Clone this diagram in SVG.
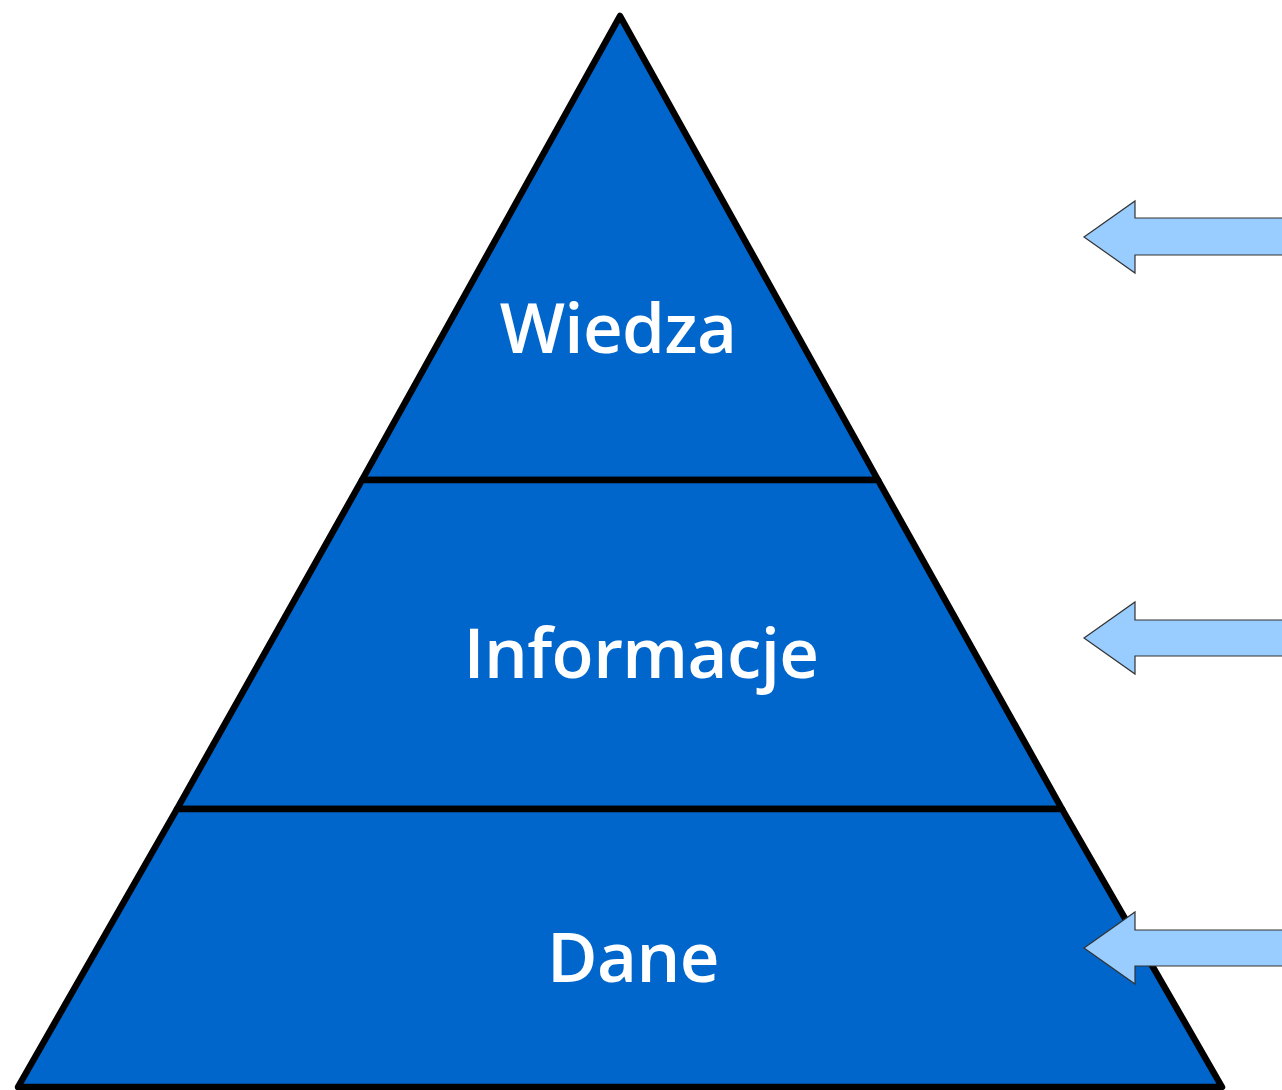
<svg xmlns="http://www.w3.org/2000/svg" width="1282" height="1090" viewBox="0 0 1282 1090">
  <style>
    .layer { fill: #0066cc; stroke: #000; stroke-width: 6.5; stroke-linejoin: round; }
    .label { fill: #fff; font-family: "Open Sans", "Noto Sans", sans-serif; font-weight: 600; font-size: 69px; letter-spacing: -0.6px; text-anchor: middle; }
    .arrow { fill: #99ccff; stroke: #333; stroke-width: 1.2; }
  </style>
  <rect width="1282" height="1090" fill="#fff"/>

  <!-- pyramid levels, top to bottom -->
  <g id="wiedza">
    <polygon class="layer" points="620,16 878,480 362,480"/>
    <text class="label" x="618" y="353">Wiedza</text>
  </g>
  <g id="informacje">
    <polygon class="layer" points="362,480 878,480 1062,809 177,809"/>
    <text class="label" x="641" y="678">Informacje</text>
  </g>
  <g id="dane">
    <polygon class="layer" points="177,809 1062,809 1222,1087 18,1087"/>
    <text class="label" x="633" y="982">Dane</text>
  </g>

  <!-- incoming arrows from the right -->
  <g id="connectors">
    <polygon class="arrow" points="1084,237 1135,201 1135,218 1290,218 1290,255 1135,255 1135,273"/>
    <polygon class="arrow" points="1084,638 1135,602 1135,620 1290,620 1290,656 1135,656 1135,674"/>
    <polygon class="arrow" points="1084,948 1135,912 1135,930 1290,930 1290,966 1135,966 1135,984"/>
  </g>
</svg>
